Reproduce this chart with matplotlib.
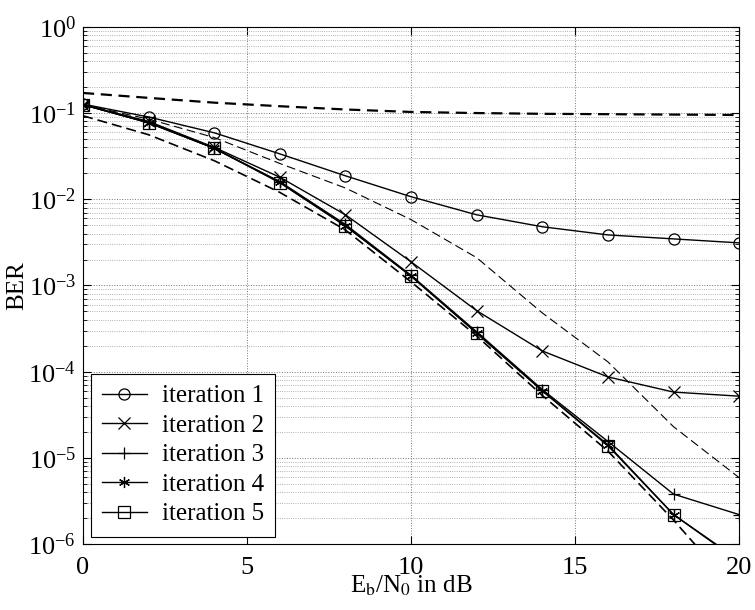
import matplotlib

matplotlib.use("Agg")

import matplotlib.pyplot as plt
from matplotlib.ticker import LogLocator, NullFormatter

plt.rcParams["font.family"] = ["Liberation Serif", "DejaVu Serif"]
plt.rcParams["mathtext.fontset"] = "stix"

# Eb/N0 in dB
ebn0 = [0, 2, 4, 6, 8, 10, 12, 14, 16, 18, 20]

iter1 = [0.127, 0.090, 0.059, 0.0336, 0.0187, 0.0107, 0.0066, 0.0048, 0.00386, 0.00347, 0.00312]
iter2 = [0.125, 0.080, 0.040, 0.018, 0.0066, 0.00188, 5.1e-4, 1.74e-4, 8.7e-5, 5.8e-5, 5.2e-5]
iter3 = [0.125, 0.078, 0.039, 0.016, 0.0051, 0.00131, 2.9e-4, 6.2e-5, 1.55e-5, 3.8e-6, 2.2e-6]
iter4 = [0.125, 0.077, 0.039, 0.0158, 0.0049, 0.00128, 2.8e-4, 6.0e-5, 1.42e-5, 2.2e-6, 6.5e-7]
iter5 = [0.125, 0.077, 0.039, 0.0155, 0.0049, 0.00129, 2.8e-4, 6.0e-5, 1.38e-5, 2.2e-6, 6.3e-7]

# reference curves (dashed)
ref_top = [0.171, 0.150, 0.132, 0.120, 0.110, 0.103, 0.100, 0.098, 0.097, 0.096, 0.095]
ref_mid = [0.125, 0.085, 0.052, 0.026, 0.0135, 0.0058, 0.0021, 4.8e-4, 1.3e-4, 2.3e-5, 5.9e-6]
ref_low = [0.093, 0.056, 0.028, 0.012, 0.0044, 0.0011, 2.6e-4, 5.3e-5, 1.2e-5, 1.9e-6, 2.6e-7]

fig = plt.figure(figsize=(7.55, 6.1), dpi=100)
ax = fig.add_axes([0.110, 0.108, 0.869, 0.848])

ax.plot(ebn0, ref_top, "k--", lw=1.6, dashes=(5, 3))
ax.plot(ebn0, ref_mid, "k--", lw=0.8, dashes=(8, 4))
ax.plot(ebn0, ref_low, "k--", lw=1.2, dashes=(6, 3))

mk = dict(color="k", lw=1.0, markersize=8, markerfacecolor="none", markeredgewidth=0.9)
ax.plot(ebn0, iter1, marker="o", label="iteration 1", **mk)
ax.plot(ebn0, iter2, marker="x", label="iteration 2", **mk)
ax.plot(ebn0, iter3, marker="+", label="iteration 3", **mk)
ax.plot(ebn0, iter4, marker=(6, 2, 0), label="iteration 4", **mk)
ax.plot(ebn0, iter5, marker="s", label="iteration 5", **mk)

ax.set_yscale("log")
ax.set_xlim(0, 20)
ax.set_ylim(1e-6, 1)
ax.set_xticks([0, 5, 10, 15, 20])
ax.yaxis.set_major_locator(LogLocator(base=10, numticks=10))
ax.yaxis.set_minor_locator(LogLocator(base=10, subs=range(2, 10), numticks=20))
ax.yaxis.set_minor_formatter(NullFormatter())

ax.grid(True, which="major", linestyle=":", linewidth=0.7, color="#777777")
ax.grid(True, which="minor", axis="y", linestyle=":", linewidth=0.6, color="#999999")
ax.set_axisbelow(True)

ax.tick_params(which="both", direction="in", top=True, right=True)
ax.tick_params(axis="x", labelsize=19, pad=9)
ax.tick_params(axis="y", labelsize=19, pad=5)
ax.tick_params(which="major", length=6)
ax.tick_params(which="minor", length=3)
for spine in ax.spines.values():
    spine.set_linewidth(0.8)

ax.set_xlabel(r"E$_\mathrm{b}$/N$_\mathrm{0}$ in dB", fontsize=18)
ax.xaxis.set_label_coords(0.5, -0.058)
ax.set_ylabel("BER", fontsize=18, labelpad=0)

leg = ax.legend(loc="lower left", fontsize=18, fancybox=False, framealpha=1,
                edgecolor="k", borderaxespad=0.3, handlelength=1.8, labelspacing=0.28,
                borderpad=0.45, handletextpad=0.6)
leg.get_frame().set_linewidth(0.8)

fig.savefig("out.png", dpi=100)
